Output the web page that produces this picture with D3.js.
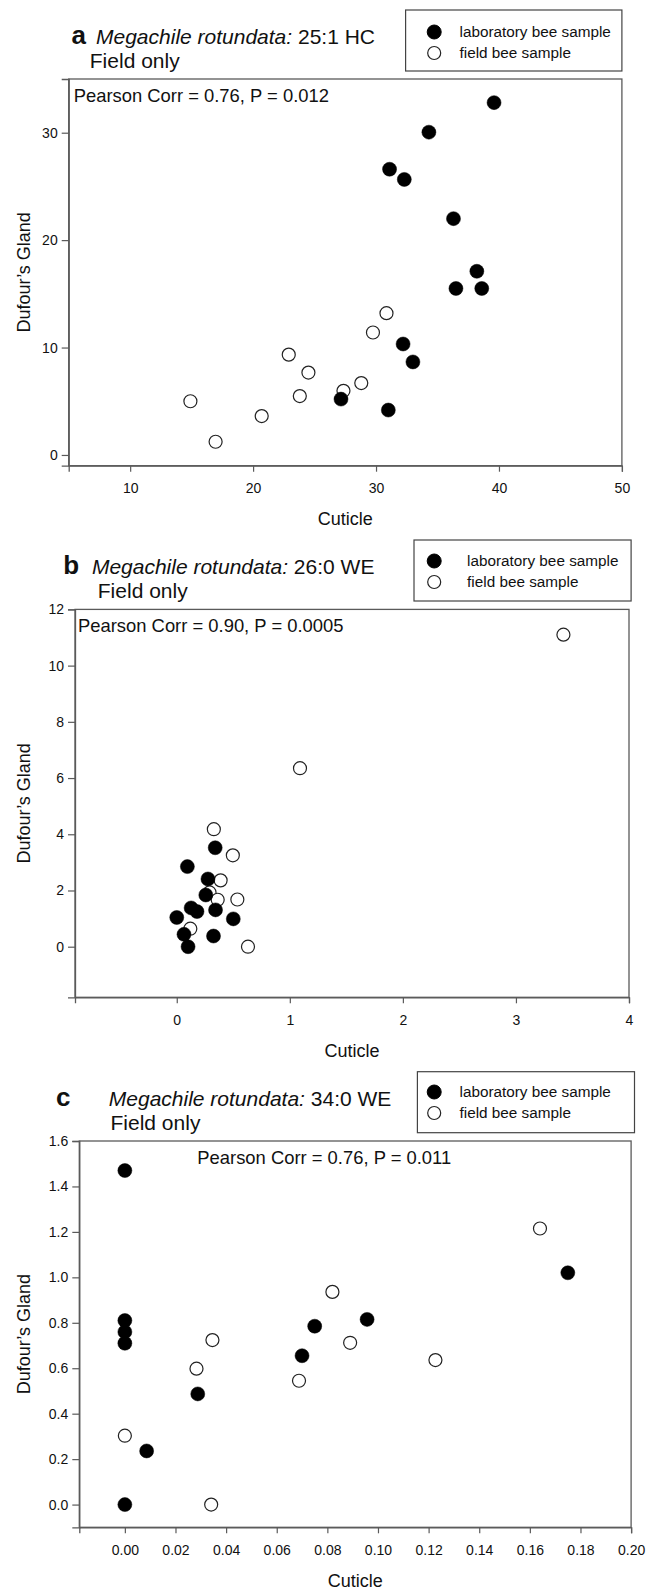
<!DOCTYPE html>
<html>
<head>
<meta charset="utf-8">
<script src="https://cdn.jsdelivr.net/npm/d3@7/dist/d3.min.js"></script>
<style>
  html, body { margin: 0; padding: 0; background: #fff; }
  svg { display: block; }
  .txt { font-family: "Liberation Sans", Arial, sans-serif; fill: #111; }
  .tick text { font-family: "Liberation Sans", Arial, sans-serif; font-size: 14px; fill: #111; }
</style>
</head>
<body>
<svg id="chart" width="661" height="1591"></svg>
<script>
// ---------- Data ----------
// Panel a: 25:1 HC
const aLabX   = [39.6, 34.3, 31.1, 32.3, 36.3, 38.2, 36.5, 38.6, 32.2, 33.0, 27.15, 31.0];
const aLabY   = [32.8, 30.05, 26.6, 25.65, 22.0, 17.1, 15.5, 15.5, 10.33, 8.66, 5.2, 4.18];
const aFieldX = [30.85, 29.75, 22.9, 24.5, 28.8, 27.35, 23.8, 14.9, 20.7, 16.95];
const aFieldY = [13.2, 11.4, 9.34, 7.67, 6.69, 5.97, 5.48, 5.0, 3.62, 1.23];
const aXTicks = [10, 20, 30, 40, 50];
const aYTicks = [0, 10, 20, 30];

// Panel b: 26:0 WE
const bLabX   = [0.34, 0.094, 0.276, 0.257, 0.127, 0.179, 0.343, 0.0, 0.5, 0.064, 0.325, 0.1];
const bLabY   = [3.52, 2.85, 2.41, 1.84, 1.38, 1.25, 1.31, 1.04, 0.99, 0.44, 0.38, 0.0];
const bFieldX = [3.42, 1.09, 0.328, 0.496, 0.388, 0.29, 0.536, 0.362, 0.12, 0.63];
const bFieldY = [11.1, 6.35, 4.18, 3.25, 2.36, 1.93, 1.68, 1.67, 0.64, 0.0];
const bXTicks = [0, 1, 2, 3, 4];
const bYTicks = [0, 2, 4, 6, 8, 10, 12];

// Panel c: 34:0 WE
const cLabX   = [0, 0.175, 0, 0, 0, 0.0957, 0.075, 0.070, 0.0288, 0.0086, 0];
const cLabY   = [1.47, 1.02, 0.81, 0.76, 0.71, 0.815, 0.785, 0.655, 0.487, 0.236, 0.0];
const cFieldX = [0.164, 0.082, 0.0346, 0.089, 0.0283, 0.0688, 0.1227, 0.0, 0.0341];
const cFieldY = [1.215, 0.936, 0.724, 0.712, 0.598, 0.545, 0.636, 0.303, 0.0];
const cXTicks = [0, 0.02, 0.04, 0.06, 0.08, 0.10, 0.12, 0.14, 0.16, 0.18, 0.20];
const cYTicks = [0, 0.2, 0.4, 0.6, 0.8, 1.0, 1.2, 1.4, 1.6];

const legendLabels = ["laboratory bee sample", "field bee sample"];
const xTitle = "Cuticle";
const yTitle = "Dufour\u2019s Gland";
const species = "Megachile rotundata:";

// ---------- Panel configs ----------
const panels = [
  { letter: "a", compound: " 25:1 HC", stat: "Pearson Corr = 0.76, P = 0.012",
    labX: aLabX, labY: aLabY, fieldX: aFieldX, fieldY: aFieldY,
    xTicks: aXTicks, yTicks: aYTicks, xDom: [5, 50], yDom: [-1, 35],
    xFmt: d3.format("d"), yFmt: d3.format("d"),
    box: { l: 68.7, r: 621.9, t: 79, b: 465.7 },
    title: { lx: 71.5, sx: 96, fx: 89.8, y: 44 },
    statX: 73.7,
    legend: { l: 405.6, r: 621.9, t: 10, b: 71, mx: 434.2, tx: 459.5, y1: 32, y2: 53 } },
  { letter: "b", compound: " 26:0 WE", stat: "Pearson Corr = 0.90, P = 0.0005",
    labX: bLabX, labY: bLabY, fieldX: bFieldX, fieldY: bFieldY,
    xTicks: bXTicks, yTicks: bYTicks, xDom: [-0.9, 4], yDom: [-1.8, 12],
    xFmt: d3.format("d"), yFmt: d3.format("d"),
    box: { l: 75.0, r: 629.0, t: 609.4, b: 997.3 },
    title: { lx: 63.2, sx: 91.9, fx: 97.8, y: 574 },
    statX: 78,
    legend: { l: 414, r: 631.1, t: 540, b: 601, mx: 434.2, tx: 467.1, y1: 561, y2: 582 } },
  { letter: "c", compound: " 34:0 WE", stat: "Pearson Corr = 0.76, P = 0.011",
    labX: cLabX, labY: cLabY, fieldX: cFieldX, fieldY: cFieldY,
    xTicks: cXTicks, yTicks: cYTicks, xDom: [-0.018, 0.2], yDom: [-0.1, 1.6],
    xFmt: d3.format(".2f"), yFmt: d3.format(".1f"),
    box: { l: 79.3, r: 631.1, t: 1141, b: 1527.3 },
    title: { lx: 56.1, sx: 108.8, fx: 110.5, y: 1106 },
    statX: 197.3,
    legend: { l: 417.4, r: 634.5, t: 1071.7, b: 1132.7, mx: 434.2, tx: 459.5, y1: 1092, y2: 1113 } }
];

const svg = d3.select("#chart");
svg.append("rect").attr("width", 661).attr("height", 1591).attr("fill", "#fff");

const axisColor = "#5a5a5a";
const R = 7;

panels.forEach(p => {
  const g = svg.append("g");
  const x = d3.scaleLinear().domain(p.xDom).range([p.box.l, p.box.r]);
  const y = d3.scaleLinear().domain(p.yDom).range([p.box.b, p.box.t]);

  // Title
  g.append("text").attr("class", "txt").attr("x", p.title.lx).attr("y", p.title.y)
    .attr("font-weight", "bold").attr("font-size", 26).text(p.letter);
  const t2 = g.append("text").attr("class", "txt").attr("x", p.title.sx).attr("y", p.title.y).attr("font-size", 21);
  t2.append("tspan").attr("font-style", "italic").text(species);
  t2.append("tspan").text(p.compound);
  g.append("text").attr("class", "txt").attr("x", p.title.fx).attr("y", p.title.y + 24)
    .attr("font-size", 21).text("Field only");

  // Legend
  const L = p.legend;
  g.append("rect").attr("x", L.l).attr("y", L.t).attr("width", L.r - L.l).attr("height", L.b - L.t)
    .attr("fill", "#fff").attr("stroke", "#444").attr("stroke-width", 1.2);
  g.append("circle").attr("cx", L.mx).attr("cy", L.y1).attr("r", R).attr("fill", "#000").attr("stroke", "#000");
  g.append("circle").attr("cx", L.mx).attr("cy", L.y2).attr("r", R - 0.5).attr("fill", "#fff").attr("stroke", "#222").attr("stroke-width", 1.2);
  g.append("text").attr("class", "txt").attr("x", L.tx).attr("y", L.y1).attr("dy", "0.35em")
    .attr("font-size", 15.3).text(legendLabels[0]);
  g.append("text").attr("class", "txt").attr("x", L.tx).attr("y", L.y2).attr("dy", "0.35em")
    .attr("font-size", 15.3).text(legendLabels[1]);

  // Frame
  g.append("rect").attr("x", p.box.l).attr("y", p.box.t)
    .attr("width", p.box.r - p.box.l).attr("height", p.box.b - p.box.t)
    .attr("fill", "none").attr("stroke", axisColor).attr("stroke-width", 1.3);

  // Axes
  const xAxis = d3.axisBottom(x).tickValues(p.xTicks).tickFormat(p.xFmt).tickSize(6).tickPadding(11.5);
  const yAxis = d3.axisLeft(y).tickValues(p.yTicks).tickFormat(p.yFmt).tickSize(7).tickPadding(4);
  const gx = g.append("g").attr("transform", `translate(0,${p.box.b})`).call(xAxis);
  const gy = g.append("g").attr("transform", `translate(${p.box.l},0)`).call(yAxis);
  [gx, gy].forEach(a => {
    a.select(".domain").attr("stroke", axisColor).attr("stroke-width", 1.3);
    a.selectAll(".tick line").attr("stroke", axisColor).attr("stroke-width", 1.2);
    a.attr("font-family", null).attr("font-size", null);
  });

  // Stat text
  g.append("text").attr("class", "txt").attr("x", p.statX).attr("y", p.box.t + 22.5)
    .attr("font-size", 18.4).text(p.stat);

  // Points: field (open) first, then lab (filled) on top
  const field = p.fieldX.map((v, i) => [v, p.fieldY[i]]);
  const lab = p.labX.map((v, i) => [v, p.labY[i]]);
  g.selectAll(".field").data(field).enter().append("circle").attr("class", "field")
    .attr("cx", d => x(d[0])).attr("cy", d => y(d[1])).attr("r", R - 0.5)
    .attr("fill", "#fff").attr("stroke", "#222").attr("stroke-width", 1.2);
  g.selectAll(".lab").data(lab).enter().append("circle").attr("class", "lab")
    .attr("cx", d => x(d[0])).attr("cy", d => y(d[1])).attr("r", R)
    .attr("fill", "#000").attr("stroke", "#000").attr("stroke-width", 0.5);

  // Axis titles
  g.append("text").attr("class", "txt").attr("text-anchor", "middle")
    .attr("x", (p.box.l + p.box.r) / 2).attr("y", p.box.b + 59.5)
    .attr("font-size", 18).text(xTitle);
  g.append("text").attr("class", "txt").attr("text-anchor", "middle")
    .attr("transform", `translate(${29.5},${(p.box.t + p.box.b) / 2}) rotate(-90)`)
    .attr("font-size", 18).text(yTitle);
});
</script>
</body>
</html>
